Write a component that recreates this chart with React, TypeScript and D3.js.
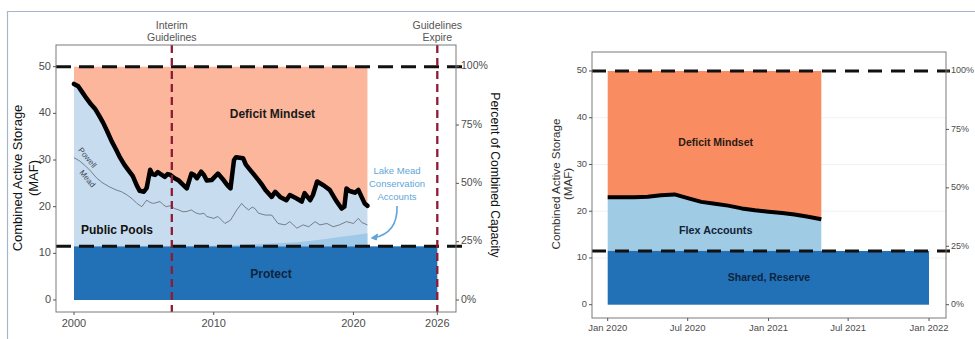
import React from "react";
import * as d3 from "d3";

// ---- Lake Powell + Lake Mead combined storage, 2000–2021 (MAF) ----
const combinedYears = [
  2000.0, 2000.3, 2000.6, 2000.9, 2001.2, 2001.5, 2001.8, 2002.1, 2002.4, 2002.7,
  2003.0, 2003.3, 2003.6, 2003.9, 2004.2, 2004.5, 2004.7, 2005.0, 2005.2, 2005.45,
  2005.6, 2005.8, 2006.0, 2006.15, 2006.5, 2006.7, 2006.9, 2007.2, 2007.5, 2007.7,
  2008.07, 2008.4, 2008.6, 2008.8, 2009.1, 2009.3, 2009.5, 2009.85, 2010.3, 2010.7,
  2011.0, 2011.2, 2011.45, 2011.6, 2012.1, 2012.3, 2012.6, 2012.9, 2013.2, 2013.5,
  2013.7, 2014.15, 2014.4, 2014.75, 2015.2, 2015.45, 2015.9, 2016.3, 2016.5, 2016.9,
  2017.1, 2017.4, 2017.85, 2018.3, 2018.8, 2019.15, 2019.35, 2019.5, 2019.7, 2019.9,
  2020.1, 2020.35, 2020.6, 2020.8, 2021.0,
];
const combinedMAF = [
  46.3, 45.8, 44.5, 43.2, 42.0, 41.0, 39.5, 37.9, 36.0, 34.0,
  32.3, 30.5, 29.0, 27.8, 26.6, 24.5, 23.4, 23.2, 24.0, 27.9,
  27.0, 26.8, 27.4, 27.1, 26.4, 27.0, 26.8, 26.1, 25.6, 25.0,
  23.9, 27.1, 26.8, 26.1, 27.5, 26.8, 25.6, 25.7, 27.1, 25.7,
  24.5, 23.9, 30.0, 30.6, 30.4, 29.0, 27.9, 26.8, 25.7, 24.5,
  23.6, 22.1, 23.2, 22.1, 21.4, 22.5, 21.8, 21.1, 22.9, 21.4,
  22.5, 25.4, 24.6, 23.6, 21.1, 19.6, 20.0, 23.9, 23.4, 23.2,
  23.0, 23.6, 22.0, 20.7, 20.2,
];

// ---- Lake Mead share (split line between Mead and Powell) ----
const meadYears = [
  2000.0, 2000.4, 2000.8, 2001.2, 2001.6, 2002.0, 2002.5, 2003.0, 2003.4, 2003.8,
  2004.2, 2004.5, 2004.85, 2005.2, 2005.45, 2005.7, 2006.15, 2006.4, 2006.6, 2006.9,
  2007.2, 2007.5, 2007.8, 2008.1, 2008.4, 2008.7, 2009.0, 2009.3, 2009.5, 2010.0,
  2010.3, 2010.8, 2011.2, 2011.65, 2012.0, 2012.2, 2012.5, 2012.75, 2012.95, 2013.2,
  2013.7, 2014.15, 2014.6, 2015.1, 2015.45, 2015.95, 2016.4, 2016.8, 2017.25, 2017.6,
  2018.1, 2018.55, 2019.0, 2019.5, 2020.0, 2020.35, 2020.6, 2021.0,
];
const meadMAF = [
  30.5, 29.8, 28.8, 27.6, 26.2, 25.2, 24.3, 23.6, 23.2, 22.5,
  21.6, 20.7, 20.0, 21.4, 20.9, 20.7, 21.1, 20.4, 20.0, 20.2,
  19.6, 19.3, 18.9, 19.0, 19.3, 18.7, 18.4, 18.6, 17.9, 17.5,
  17.9, 16.4, 17.1, 19.3, 20.7, 20.0, 19.3, 19.9, 19.6, 18.6,
  18.2, 18.2, 16.4, 16.1, 16.8, 15.4, 16.1, 15.7, 16.8, 16.1,
  16.4, 15.7, 16.1, 16.8, 16.4, 17.5, 16.6, 16.1,
];

// ---- Lake Mead conservation accounts held above the protect pool (MAF) ----
const icsYears = [2008, 2010, 2012, 2014, 2016, 2017, 2018, 2019, 2020, 2021];
const icsMAF = [0, 0.15, 0.35, 0.6, 0.9, 1.2, 1.6, 2.0, 2.4, 2.8];

// ---- 2020–2021 monthly storage for the flex-account view (MAF) ----
const flexMonths = [
  "2020-01", "2020-02", "2020-03", "2020-04", "2020-05", "2020-06", "2020-07", "2020-08", "2020-09",
  "2020-10", "2020-11", "2020-12", "2021-01", "2021-02", "2021-03", "2021-04", "2021-05",
];
const flexMAF = [
  23.0, 23.0, 23.0, 23.1, 23.4, 23.6, 22.8, 22.0, 21.6,
  21.2, 20.6, 20.2, 19.9, 19.6, 19.3, 18.8, 18.3,
];

// ---- reference levels and ticks ----
const CAPACITY = 50;
const PROTECT = 11.5;
const storageTicks = [0, 10, 20, 30, 40, 50];
const pctTicks = [0, 0.25, 0.5, 0.75, 1];
const yearTicks = [2000, 2010, 2020, 2026];
const monthTicks = ["2020-01", "2020-07", "2021-01", "2021-07", "2022-01"];
const guideYears = [2007, 2026];
const guideLabels = [["Interim", "Guidelines"], ["Guidelines", "Expire"]];

const FONT = "'Liberation Sans', Arial, Helvetica, sans-serif";
const TICK = "#4d4d4d";
const parseMonth = d3.timeParse("%Y-%m");
const monthFmt = d3.timeFormat("%b %Y");

type Pt = { t: number; v: number };
type DPt = { t: Date; v: number };

const combined: Pt[] = combinedYears.map((t, i) => ({ t, v: combinedMAF[i] }));
const mead: Pt[] = meadYears.map((t, i) => ({ t, v: meadMAF[i] }));
const ics: Pt[] = icsYears.map((t, i) => ({ t, v: icsMAF[i] }));
const flex: DPt[] = flexMonths.map((m, i) => ({ t: parseMonth(m)!, v: flexMAF[i] }));

function LeftPanel() {
  const P = { left: 56, right: 456, top: 45, bottom: 312 };
  const x = d3.scaleLinear().domain([2000, 2026]).range([74, 437.3]);
  const y = d3.scaleLinear().domain([0, CAPACITY]).range([300, 66.7]);
  const pct = d3.scaleLinear().domain([0, 1]).range([y(0), y(CAPACITY)]);

  const deficit = d3.area<Pt>().x((d) => x(d.t)).y0(y(CAPACITY)).y1((d) => y(d.v))(combined)!;
  const pools = d3.area<Pt>().x((d) => x(d.t)).y0(y(PROTECT)).y1((d) => y(d.v))(combined)!;
  const icsArea = d3.area<Pt>().x((d) => x(d.t)).y0(y(PROTECT)).y1((d) => y(PROTECT + d.v))(ics)!;
  const topLine = d3.line<Pt>().x((d) => x(d.t)).y((d) => y(d.v))(combined)!;
  const meadLine = d3.line<Pt>().x((d) => x(d.t)).y((d) => y(d.v))(mead)!;
  const lastYear = combinedYears[combinedYears.length - 1];

  return (
    <g fontFamily={FONT}>
      {/* storage zones */}
      <path d={deficit} fill="#fbb69c" />
      <path d={pools} fill="#c7dcef" />
      <path d={icsArea} fill="#9fc9e8" />
      <rect x={x(2000)} y={y(PROTECT)} width={x(2026) - x(2000)} height={y(0) - y(PROTECT)} fill="#2271b6" />

      {/* Powell / Mead split */}
      <path d={meadLine} fill="none" stroke="#5f6670" strokeWidth={0.8} />
      <path d={topLine} fill="none" stroke="#000" strokeWidth={4.5} strokeLinejoin="round" strokeLinecap="round" />

      <text transform={`translate(87,158) rotate(50)`} fontSize={8} fill="#3d4550" textAnchor="middle" dominantBaseline="middle">Powell</text>
      <text transform={`translate(87,179) rotate(50)`} fontSize={8} fill="#3d4550" textAnchor="middle" dominantBaseline="middle">Mead</text>

      {/* zone labels */}
      <text x={x(2014.2)} y={y(39.6)} fontSize={12} fontWeight="bold" fill="#1a1a1a" textAnchor="middle" dominantBaseline="middle">Deficit Mindset</text>
      <text x={117} y={y(14.8)} fontSize={12} fontWeight="bold" fill="#111" textAnchor="middle" dominantBaseline="middle">Public Pools</text>
      <text x={x(2014.1)} y={y(5.5)} fontSize={12} fontWeight="bold" fill="#0d2440" textAnchor="middle" dominantBaseline="middle">Protect</text>

      {/* conservation account callout */}
      <g fill="#62a6d9" fontSize={9.5} textAnchor="middle">
        <text x={397} y={174}>Lake Mead</text>
        <text x={397} y={187}>Conservation</text>
        <text x={397} y={200}>Accounts</text>
      </g>
      <path d={`M397,206 Q398,233 ${x(lastYear) + 6},238`} fill="none" stroke="#62a6d9" strokeWidth={1.6} />
      <path d={`M${x(lastYear) + 4},238 l6,-4 l-1,6 z`} fill="#62a6d9" stroke="#62a6d9" strokeWidth={1} />

      {/* capacity and protect thresholds */}
      {[CAPACITY, PROTECT].map((v) => (
        <line key={v} x1={P.left} x2={465} y1={y(v)} y2={y(v)} stroke="#111" strokeWidth={3} strokeDasharray="15 8" />
      ))}

      {/* guideline markers */}
      {guideYears.map((g, i) => (
        <g key={g}>
          <line x1={x(g)} x2={x(g)} y1={P.top} y2={P.bottom} stroke="#8e1b33" strokeWidth={2.3} strokeDasharray="8 5" />
          {guideLabels[i].map((s, j) => (
            <text key={j} x={x(g)} y={29 + j * 11.5} fontSize={10.5} fill="#555" textAnchor="middle">{s}</text>
          ))}
        </g>
      ))}

      {/* panel border */}
      <rect x={P.left} y={P.top} width={P.right - P.left} height={P.bottom - P.top} fill="none" stroke="#7a7a7a" strokeWidth={1} />

      {/* left axis */}
      {storageTicks.map((t) => (
        <g key={t}>
          <line x1={P.left - 3} x2={P.left} y1={y(t)} y2={y(t)} stroke="#555" />
          <text x={P.left - 5} y={y(t)} fontSize={11} fill={TICK} textAnchor="end" dominantBaseline="middle">{t}</text>
        </g>
      ))}
      {/* right axis */}
      {pctTicks.map((t) => (
        <g key={t}>
          <line x1={P.right} x2={P.right + 3} y1={pct(t)} y2={pct(t)} stroke="#555" />
          <text x={P.right + 5} y={pct(t)} fontSize={10.5} fill={TICK} dominantBaseline="middle">{d3.format(".0%")(t)}</text>
        </g>
      ))}
      {/* bottom axis */}
      {yearTicks.map((t) => (
        <g key={t}>
          <line x1={x(t)} x2={x(t)} y1={P.bottom} y2={P.bottom + 3} stroke="#555" />
          <text x={x(t)} y={P.bottom + 15} fontSize={11} fill={TICK} textAnchor="middle">{t}</text>
        </g>
      ))}

      <text transform={`translate(22,178) rotate(-90)`} fontSize={13} fill="#111" textAnchor="middle">Combined Active Storage</text>
      <text transform={`translate(38,178) rotate(-90)`} fontSize={13} fill="#111" textAnchor="middle">(MAF)</text>
      <text transform={`translate(491,175) rotate(90)`} fontSize={12.2} fill="#111" textAnchor="middle">Percent of Combined Capacity</text>
    </g>
  );
}

function RightPanel() {
  const P = { left: 592, right: 946, top: 52, bottom: 318 };
  const x = d3.scaleTime().domain([parseMonth("2020-01")!, parseMonth("2022-01")!]).range([607.7, 929]);
  const y = d3.scaleLinear().domain([0, CAPACITY]).range([304.7, 71]);
  const pct = d3.scaleLinear().domain([0, 1]).range([y(0), y(CAPACITY)]);

  const deficit = d3.area<DPt>().x((d) => x(d.t)).y0(y(CAPACITY)).y1((d) => y(d.v))(flex)!;
  const flexArea = d3.area<DPt>().x((d) => x(d.t)).y0(y(PROTECT)).y1((d) => y(d.v))(flex)!;
  const topLine = d3.line<DPt>().x((d) => x(d.t)).y((d) => y(d.v))(flex)!;
  const start = parseMonth("2020-01")!;
  const end = parseMonth("2022-01")!;
  const tickDates = monthTicks.map((m) => parseMonth(m)!);

  return (
    <g fontFamily={FONT}>
      {/* faint grid */}
      {[10, 20, 30, 40].map((t) => (
        <line key={t} x1={P.left} x2={P.right} y1={y(t)} y2={y(t)} stroke="#f1f1f1" strokeWidth={1} />
      ))}

      <path d={deficit} fill="#fa8c62" />
      <path d={flexArea} fill="#a0cbe4" />
      <rect x={x(start)} y={y(PROTECT)} width={x(end) - x(start)} height={y(0) - y(PROTECT)} fill="#2271b6" />
      <path d={topLine} fill="none" stroke="#000" strokeWidth={4} strokeLinejoin="round" />

      <text x={715.7} y={y(34.5)} fontSize={10.5} fontWeight="bold" fill="#2a1a14" textAnchor="middle" dominantBaseline="middle">Deficit Mindset</text>
      <text x={715.7} y={y(15.7)} fontSize={10.8} fontWeight="bold" fill="#122338" textAnchor="middle" dominantBaseline="middle">Flex Accounts</text>
      <text x={769} y={y(5.6)} fontSize={10.5} fontWeight="bold" fill="#0d2440" textAnchor="middle" dominantBaseline="middle">Shared, Reserve</text>

      {[CAPACITY, PROTECT].map((v) => (
        <line key={v} x1={P.left} x2={950} y1={y(v)} y2={y(v)} stroke="#111" strokeWidth={3} strokeDasharray="14 9" />
      ))}

      <rect x={P.left} y={P.top} width={P.right - P.left} height={P.bottom - P.top} fill="none" stroke="#7a7a7a" strokeWidth={1} />

      {storageTicks.map((t) => (
        <g key={t}>
          <line x1={P.left - 3} x2={P.left} y1={y(t)} y2={y(t)} stroke="#555" />
          <text x={P.left - 5} y={y(t)} fontSize={9.3} fill={TICK} textAnchor="end" dominantBaseline="middle">{t}</text>
        </g>
      ))}
      {pctTicks.map((t) => (
        <g key={t}>
          <line x1={P.right} x2={P.right + 3} y1={pct(t)} y2={pct(t)} stroke="#555" />
          <text x={P.right + 5} y={pct(t)} fontSize={9} fill={TICK} dominantBaseline="middle">{d3.format(".0%")(t)}</text>
        </g>
      ))}
      {tickDates.map((d, i) => (
        <g key={i}>
          <line x1={x(d)} x2={x(d)} y1={P.bottom} y2={P.bottom + 3} stroke="#555" />
          <text x={x(d)} y={P.bottom + 12.5} fontSize={9.5} fill={TICK} textAnchor="middle">{monthFmt(d)}</text>
        </g>
      ))}

      <text transform={`translate(560,184) rotate(-90)`} fontSize={11.6} fill="#333" textAnchor="middle">Combined Active Storage</text>
      <text transform={`translate(572,184) rotate(-90)`} fontSize={11.6} fill="#333" textAnchor="middle">(MAF)</text>
    </g>
  );
}

export default function App() {
  return (
    <svg
      width={975}
      height={339}
      viewBox="0 0 975 339"
      style={{ position: "absolute", left: 0, top: 0, background: "#fff" }}
    >
      <rect x={0} y={0} width={975} height={339} fill="#fff" />
      {/* outer frame */}
      <line x1={7} x2={975} y1={11.5} y2={11.5} stroke="#a9b5cb" strokeWidth={1.2} />
      <line x1={7.5} x2={7.5} y1={11} y2={339} stroke="#a9b5cb" strokeWidth={1.2} />
      <LeftPanel />
      <RightPanel />
    </svg>
  );
}
